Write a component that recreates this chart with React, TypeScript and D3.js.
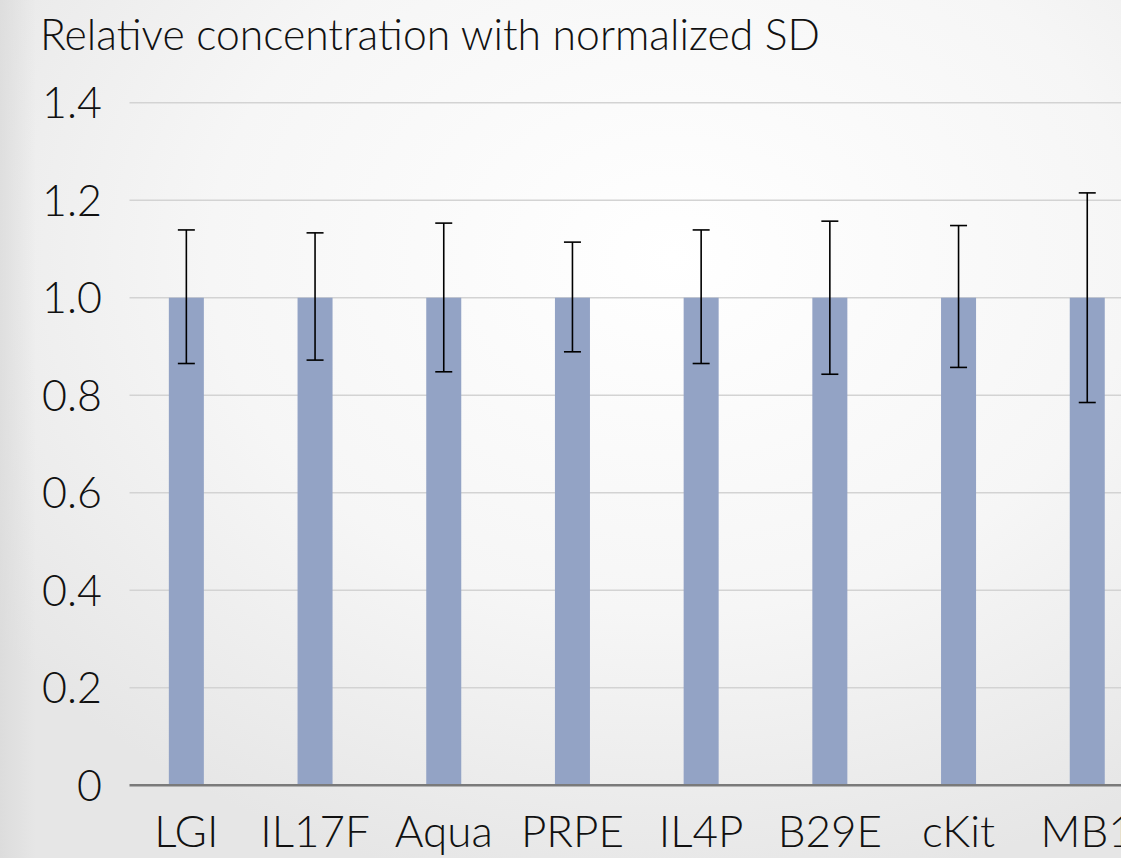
import React from 'react';
import * as d3 from 'd3';

// chart data
const categories = ['LGI', 'IL17F', 'Aqua', 'PRPE', 'IL4P', 'B29E', 'cKit', 'MB1'];
const values = [1, 1, 1, 1, 1, 1, 1, 1];
const sdUpper = [0.139, 0.133, 0.153, 0.114, 0.139, 0.157, 0.148, 0.215];
const sdLower = [0.135, 0.128, 0.152, 0.111, 0.135, 0.157, 0.143, 0.215];
const yTicks = [0, 0.2, 0.4, 0.6, 0.8, 1.0, 1.2, 1.4];
const yTickLabels = ['0', '0.2', '0.4', '0.6', '0.8', '1.0', '1.2', '1.4'];

const width = 1121;
const height = 858;
const font = 'Lato, "Open Sans", sans-serif';

const App = () => {
  const step = 128.7;
  const x0 = 122;
  const xScale = d3
    .scaleBand<string>()
    .domain(categories)
    .range([x0, x0 + step * categories.length])
    .paddingInner(0.728)
    .paddingOuter(0.364);

  const yScale = d3.scaleLinear().domain([0, 1.4]).range([785.2, 102.7]);

  const gridLeft = 129.5;
  const capHalf = 8.5;

  return (
    <svg
      width={width}
      height={height}
      style={{ position: 'absolute', left: 0, top: 0, display: 'block' }}
      fontFamily={font}
      fontWeight={300}
    >
      <defs>
        <radialGradient id="bg" cx="0.6" cy="0.3" r="0.75">
          <stop offset="0" stopColor="#ffffff" />
          <stop offset="0.55" stopColor="#f6f6f6" />
          <stop offset="1" stopColor="#e6e6e6" />
        </radialGradient>
        <linearGradient id="leftShade" x1="0" x2="1" y1="0" y2="0">
          <stop offset="0" stopColor="#d8d8d8" stopOpacity="0.7" />
          <stop offset="1" stopColor="#d8d8d8" stopOpacity="0" />
        </linearGradient>
      </defs>
      <rect width={width} height={height} fill="url(#bg)" />
      <rect width={36} height={height} fill="url(#leftShade)" />

      {/* Title */}
      <text x={40} y={50} fontSize={44} fill="#111" textLength={780} lengthAdjust="spacingAndGlyphs">
        Relative concentration with normalized SD
      </text>

      {/* Grid lines */}
      {yTicks.slice(1).map((t) => (
        <line
          key={'g' + t}
          x1={gridLeft}
          x2={width}
          y1={yScale(t)}
          y2={yScale(t)}
          stroke="#d3d3d3"
          strokeWidth={1.5}
        />
      ))}

      {/* Y tick labels */}
      {yTicks.map((t, i) => (
        <text
          key={'yl' + t}
          x={102}
          y={yScale(t)}
          dy="0.36em"
          textAnchor="end"
          fontSize={43}
          fill="#111"
        >
          {yTickLabels[i]}
        </text>
      ))}

      {/* Bars */}
      {categories.map((c, i) => (
        <rect
          key={'b' + c}
          x={xScale(c)}
          y={yScale(values[i])}
          width={xScale.bandwidth()}
          height={yScale(0) - yScale(values[i])}
          fill="#93a3c5"
        />
      ))}

      {/* Error bars */}
      {categories.map((c, i) => {
        const cx = (xScale(c) as number) + xScale.bandwidth() / 2;
        const top = yScale(values[i] + sdUpper[i]);
        const bot = yScale(values[i] - sdLower[i]);
        return (
          <g key={'e' + c} stroke="#000" strokeWidth={1.6}>
            <line x1={cx} x2={cx} y1={top} y2={bot} />
            <line x1={cx - capHalf} x2={cx + capHalf} y1={top} y2={top} />
            <line x1={cx - capHalf} x2={cx + capHalf} y1={bot} y2={bot} />
          </g>
        );
      })}

      {/* X axis line */}
      <line x1={gridLeft} x2={width} y1={yScale(0)} y2={yScale(0)} stroke="#7a7a7a" strokeWidth={2.5} />

      {/* Category labels */}
      {categories.map((c) => (
        <text
          key={'xl' + c}
          x={(xScale(c) as number) + xScale.bandwidth() / 2}
          y={847}
          textAnchor="middle"
          fontSize={44}
          fill="#111"
        >
          {c}
        </text>
      ))}
    </svg>
  );
};

export default App;
